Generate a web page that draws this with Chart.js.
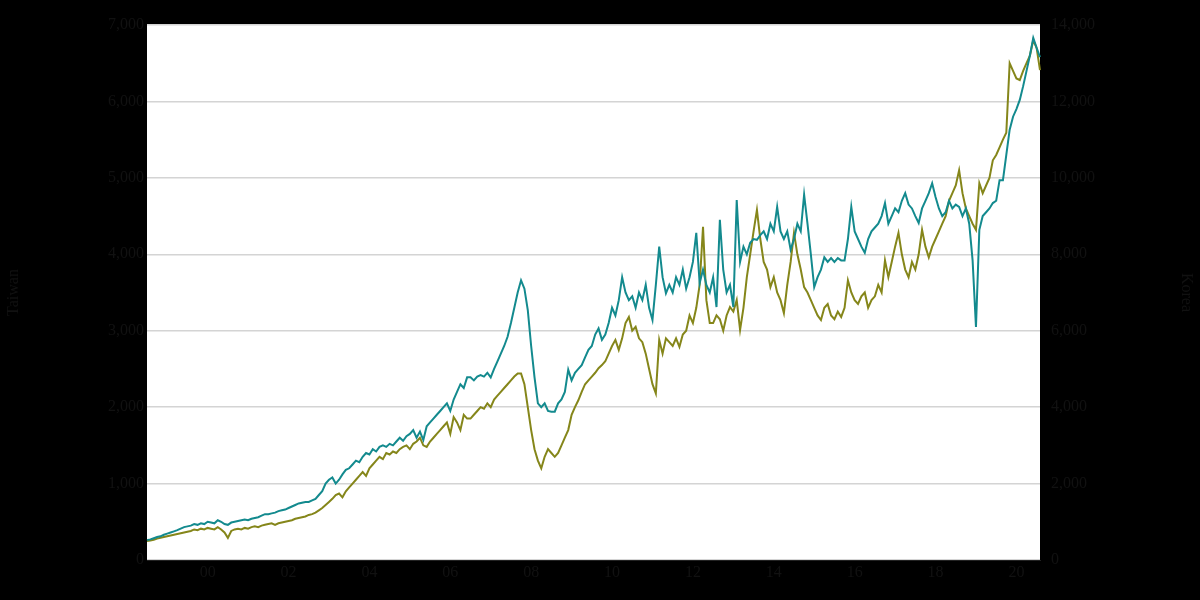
<!DOCTYPE html>
<html><head><meta charset="utf-8">
<script src="https://cdn.jsdelivr.net/npm/chart.js@4/dist/chart.umd.min.js"></script>
<style>html,body{margin:0;background:#000;}#wrap{width:1200px;height:600px;}</style>
</head><body><div id="wrap"><canvas id="c" width="1200" height="600"></canvas></div>
<script>
const startYear = 1999;
const tickYears = ["00","02","04","06","08","10","12","14","16","18","20"];
const leftSeries = [
260,270,285,300,310,330,345,360,375,390,410,430,
440,450,470,460,480,470,500,490,480,520,500,470,
460,490,500,510,520,530,520,540,550,560,580,600,
600,610,620,640,650,660,680,700,720,740,750,760,
760,780,800,850,900,1000,1050,1080,1000,1050,1120,1180,
1200,1250,1300,1280,1350,1400,1380,1450,1420,1480,1500,1480,
1520,1500,1550,1600,1560,1620,1650,1700,1600,1680,1570,1750,
1800,1850,1900,1950,2000,2050,1950,2100,2200,2300,2250,2390,
2390,2350,2400,2420,2400,2450,2390,2500,2600,2700,2800,2920,
3100,3300,3500,3660,3550,3270,2800,2390,2050,2000,2050,1950,
1940,1940,2050,2100,2200,2490,2350,2450,2500,2550,2650,2750,
2800,2950,3030,2880,2950,3100,3300,3200,3400,3700,3500,3400,
3450,3300,3500,3400,3600,3300,3140,3600,4100,3700,3490,3600,
3500,3700,3600,3800,3550,3700,3900,4280,3620,3800,3600,3500,
3700,3310,4450,3800,3500,3600,3310,4710,3900,4100,4000,4150,
4200,4190,4250,4300,4200,4400,4300,4620,4300,4200,4300,4060,
4200,4400,4300,4780,4400,4000,3570,3700,3800,3960,3900,3950,
3900,3950,3920,3920,4200,4620,4300,4200,4100,4020,4200,4300,
4350,4400,4500,4670,4400,4500,4600,4550,4700,4800,4650,4600,
4500,4410,4600,4700,4800,4930,4750,4600,4500,4550,4700,4600,
4650,4620,4500,4600,4400,3920,3050,4320,4500,4550,4600,4670,
4700,4970,4970,5300,5630,5800,5900,6020,6200,6400,6600,6830,
6700,6580];
const rightSeries = [
500,510,530,560,580,600,620,640,660,680,700,720,
740,760,800,780,820,800,840,820,800,860,800,720,
580,760,800,820,800,840,820,860,880,860,900,920,
940,960,920,960,980,1000,1020,1040,1080,1100,1120,1140,
1180,1200,1240,1300,1360,1440,1520,1600,1700,1740,1640,1800,
1900,2000,2100,2200,2300,2200,2400,2500,2600,2700,2640,2800,
2760,2840,2800,2900,2960,3000,2900,3040,3100,3200,3000,2960,
3100,3200,3300,3400,3500,3600,3300,3740,3600,3400,3800,3700,
3700,3800,3900,4000,3960,4100,4000,4200,4300,4400,4500,4600,
4700,4800,4880,4880,4600,4000,3400,2900,2600,2400,2700,2900,
2800,2700,2800,3000,3200,3400,3800,4000,4180,4400,4600,4700,
4800,4900,5020,5100,5200,5400,5600,5760,5500,5800,6200,6360,
6000,6100,5800,5700,5400,5000,4600,4360,5760,5400,5800,5700,
5600,5800,5580,5900,6000,6400,6200,6600,7200,8720,6800,6200,
6200,6400,6300,6000,6400,6620,6500,6800,6020,6600,7400,8000,
8600,9160,8400,7800,7600,7140,7400,7000,6800,6460,7200,7800,
8560,8000,7600,7140,7000,6800,6600,6400,6280,6600,6700,6400,
6300,6500,6360,6600,7320,7000,6800,6700,6900,7000,6600,6800,
6900,7200,7000,7840,7400,7800,8200,8560,8000,7600,7400,7800,
7600,8000,8640,8200,7920,8200,8400,8600,8800,9000,9400,9600,
9800,10200,9600,9200,9000,8800,8640,9860,9600,9800,10000,10460,
10600,10800,11000,11180,13000,12800,12600,12560,12800,13000,13200,13600,
13400,12820];

const labels = leftSeries.map((_, i) => String((startYear + Math.floor(i / 12)) % 100).padStart(2, "0"));
const tickIdx = {};
tickYears.forEach(y => { const yr = 2000 + parseInt(y, 10); tickIdx[(yr - startYear) * 12 + 6] = y; });

const bg = {
  id: "bg",
  beforeDraw(c) {
    const { ctx, chartArea: a } = c;
    ctx.save();
    ctx.fillStyle = "#000"; ctx.fillRect(0, 0, c.width, c.height);
    ctx.fillStyle = "#fff"; ctx.fillRect(a.left, a.top, a.right - a.left, a.bottom - a.top);
    ctx.restore();
  }
};

new Chart(document.getElementById("c"), {
  type: "line",
  data: {
    labels,
    datasets: [
      { label: "Taiwan", data: leftSeries, yAxisID: "y", borderColor: "#138a8e", borderWidth: 2, pointRadius: 0, tension: 0 },
      { label: "Korea", data: rightSeries, yAxisID: "y1", borderColor: "#85861a", borderWidth: 2, pointRadius: 0, tension: 0 }
    ]
  },
  options: {
    responsive: false, animation: false,
    layout: { padding: { top: 25, bottom: 0, left: 0, right: 0 } },
    plugins: { legend: { display: false }, tooltip: { enabled: false } },
    scales: {
      x: {
        grid: { display: false, drawTicks: false },
        border: { color: "#222" },
        ticks: { autoSkip: false, maxRotation: 0, color: "#111", font: { family: "Liberation Serif", size: 16 },
          callback: (v, i) => tickIdx[i] !== undefined ? tickIdx[i] : null },
        afterFit: s => { s.height = 40; }
      },
      y: {
        position: "left", min: 0, max: 7000,
        ticks: { stepSize: 1000, color: "#111", font: { family: "Liberation Serif", size: 16 },
          callback: v => v.toLocaleString("en-US") },
        grid: { color: "#d4d4d4", lineWidth: 1.5, drawTicks: false },
        border: { display: false },
        title: { display: true, text: "Taiwan", color: "#111", font: { family: "Liberation Serif", size: 16 } },
        afterFit: s => { s.width = 147; }
      },
      y1: {
        position: "right", min: 0, max: 14000,
        ticks: { stepSize: 2000, color: "#111", font: { family: "Liberation Serif", size: 16 },
          callback: v => v.toLocaleString("en-US") },
        grid: { display: false },
        border: { display: false },
        title: { display: true, text: "Korea", color: "#111", font: { family: "Liberation Serif", size: 16 } },
        afterFit: s => { s.width = 160; }
      }
    }
  },
  plugins: [bg]
});
</script></body></html>
